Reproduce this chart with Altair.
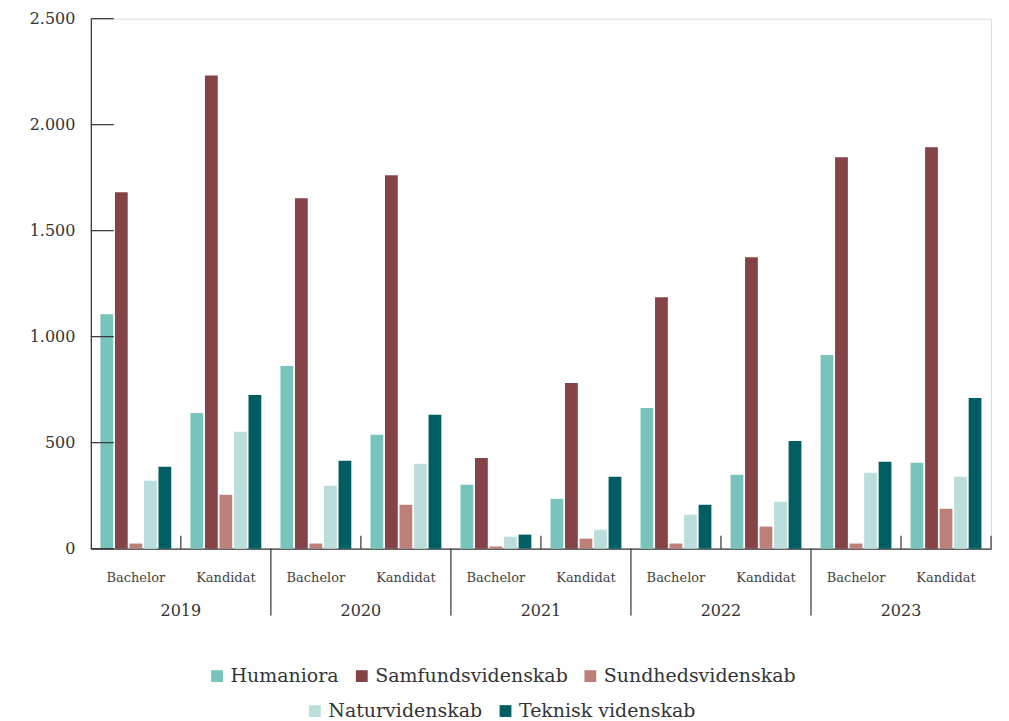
import altair as alt
import pandas as pd

years = ["2019", "2020", "2021", "2022", "2023"]
degrees = ["Bachelor", "Kandidat"]
fields = ["Humaniora", "Samfundsvidenskab", "Sundhedsvidenskab", "Naturvidenskab", "Teknisk videnskab"]
colors = ["#78C4BC", "#834347", "#BC8079", "#BBDEDC", "#005E63"]

# values ordered 2019 Bachelor, 2019 Kandidat, 2020 Bachelor, ...
humaniora = [1106, 640, 862, 537, 301, 235, 664, 348, 913, 405]
samfund = [1681, 2232, 1653, 1761, 428, 781, 1186, 1375, 1846, 1893]
sundhed = [24, 254, 24, 207, 10, 47, 24, 104, 24, 188]
natur = [320, 551, 297, 400, 56, 89, 160, 221, 358, 339]
teknisk = [386, 725, 414, 631, 66, 339, 207, 508, 410, 711]
y_ticks = [0, 500, 1000, 1500, 2000, 2500]

series = [humaniora, samfund, sundhed, natur, teknisk]
groups = [f"{y} {d}" for y in years for d in degrees]

rows = []
for f, vals in zip(fields, series):
    for g, v in zip(groups, vals):
        rows.append({"grp": g, "Felt": f, "value": v})
df = pd.DataFrame(rows)

FONT = "DejaVu Serif"
TXT = "#333333"
LINE = "#333333"
W, H = 902, 531

xscale = alt.Scale(domain=groups, paddingInner=0, paddingOuter=0)
yscale = alt.Scale(domain=[0, 2500], nice=False)
xoff_scale = alt.Scale(domain=fields, paddingInner=0.12, paddingOuter=0.66)

x_axis = alt.Axis(labelExpr="split(datum.label, ' ')[1]", labelAngle=0,
                  ticks=False, labelPadding=23, labelFontSize=13,
                  labelColor="#444444", labelFont=FONT, title=None,
                  domainColor=LINE, domainWidth=1.2, grid=False)
y_axis = alt.Axis(values=y_ticks, ticks=False, grid=False, labelPadding=16,
                  labelFontSize=16, labelColor=TXT, labelFont=FONT, title=None,
                  domainColor=LINE, domainWidth=1.2,
                  labelExpr="replace(datum.label, ',', '.')")


def legend(x, y):
    return alt.Legend(orient="none", legendX=x, legendY=y,
                      direction="horizontal", title=None,
                      symbolType="square", symbolSize=140,
                      symbolStrokeWidth=0, labelFontSize=19,
                      labelFont=FONT, labelColor=TXT, labelLimit=400,
                      columnPadding=13, labelOffset=4, padding=0)


base = alt.Chart(df)

bars1 = base.transform_filter(
    alt.FieldOneOfPredicate(field="Felt", oneOf=fields[:3])
).mark_bar().encode(
    x=alt.X("grp:N", scale=xscale, title=None, axis=x_axis),
    xOffset=alt.XOffset("Felt:N", scale=xoff_scale),
    y=alt.Y("value:Q", scale=yscale, title=None, axis=y_axis),
    color=alt.Color("Felt:N", scale=alt.Scale(domain=fields[:3], range=colors[:3]),
                    legend=legend(117, 649)),
)

bars2 = base.transform_filter(
    alt.FieldOneOfPredicate(field="Felt", oneOf=fields[3:])
).mark_bar().encode(
    x=alt.X("grp:N", scale=xscale, title=None, axis=x_axis),
    xOffset=alt.XOffset("Felt:N", scale=xoff_scale),
    y=alt.Y("value:Q", scale=yscale, title=None, axis=y_axis),
    color=alt.Color("Felt:N", scale=alt.Scale(domain=fields[3:], range=colors[3:]),
                    legend=legend(215, 684)),
)

# inward y ticks
ytick_df = pd.DataFrame({"value": y_ticks})
yticks = alt.Chart(ytick_df).mark_rule(color=LINE, strokeWidth=1.2).encode(
    y=alt.Y("value:Q", scale=yscale, title=None, axis=y_axis),
    x=alt.value(0), x2=alt.value(23),
)

# year labels centered at boundary between Bachelor and Kandidat
year_df = pd.DataFrame({"year": years, "grp": [f"{y} Kandidat" for y in years]})
year_labels = alt.Chart(year_df).mark_text(
    font=FONT, fontSize=16, color=TXT, baseline="alphabetic", align="center"
).encode(
    x=alt.X("grp:N", scale=xscale, bandPosition=0, title=None, axis=x_axis),
    y=alt.value(599),
    text="year:N",
)

# year separators (downward)
sep_df = pd.DataFrame({"grp": [f"{y} Bachelor" for y in years[1:]]})
separators = alt.Chart(sep_df).mark_rule(color=LINE, strokeWidth=1.2).encode(
    x=alt.X("grp:N", scale=xscale, bandPosition=0, title=None, axis=x_axis),
    y=alt.value(531), y2=alt.value(598),
)

# small upward ticks between Bachelor and Kandidat
up_df = pd.DataFrame({"grp": [f"{y} Kandidat" for y in years]})
upticks = alt.Chart(up_df).mark_rule(color=LINE, strokeWidth=1.2).encode(
    x=alt.X("grp:N", scale=xscale, bandPosition=0, title=None, axis=x_axis),
    y=alt.value(518), y2=alt.value(531),
)
end_df = pd.DataFrame({"grp": [groups[-1]]})
endtick = alt.Chart(end_df).mark_rule(color=LINE, strokeWidth=1.2).encode(
    x=alt.X("grp:N", scale=xscale, bandPosition=1, title=None, axis=x_axis),
    y=alt.value(518), y2=alt.value(531),
)

chart = alt.layer(
    bars1, bars2, yticks, year_labels, separators, upticks, endtick
).resolve_scale(color="independent").properties(
    width=W, height=H,
    autosize=alt.AutoSizeParams(type="none"),
    padding={"left": 83, "top": 10, "right": 10, "bottom": 172},
).configure_view(stroke=None).configure(font=FONT)

chart.save("out.html", embed_options={"renderer": "svg", "actions": False})
